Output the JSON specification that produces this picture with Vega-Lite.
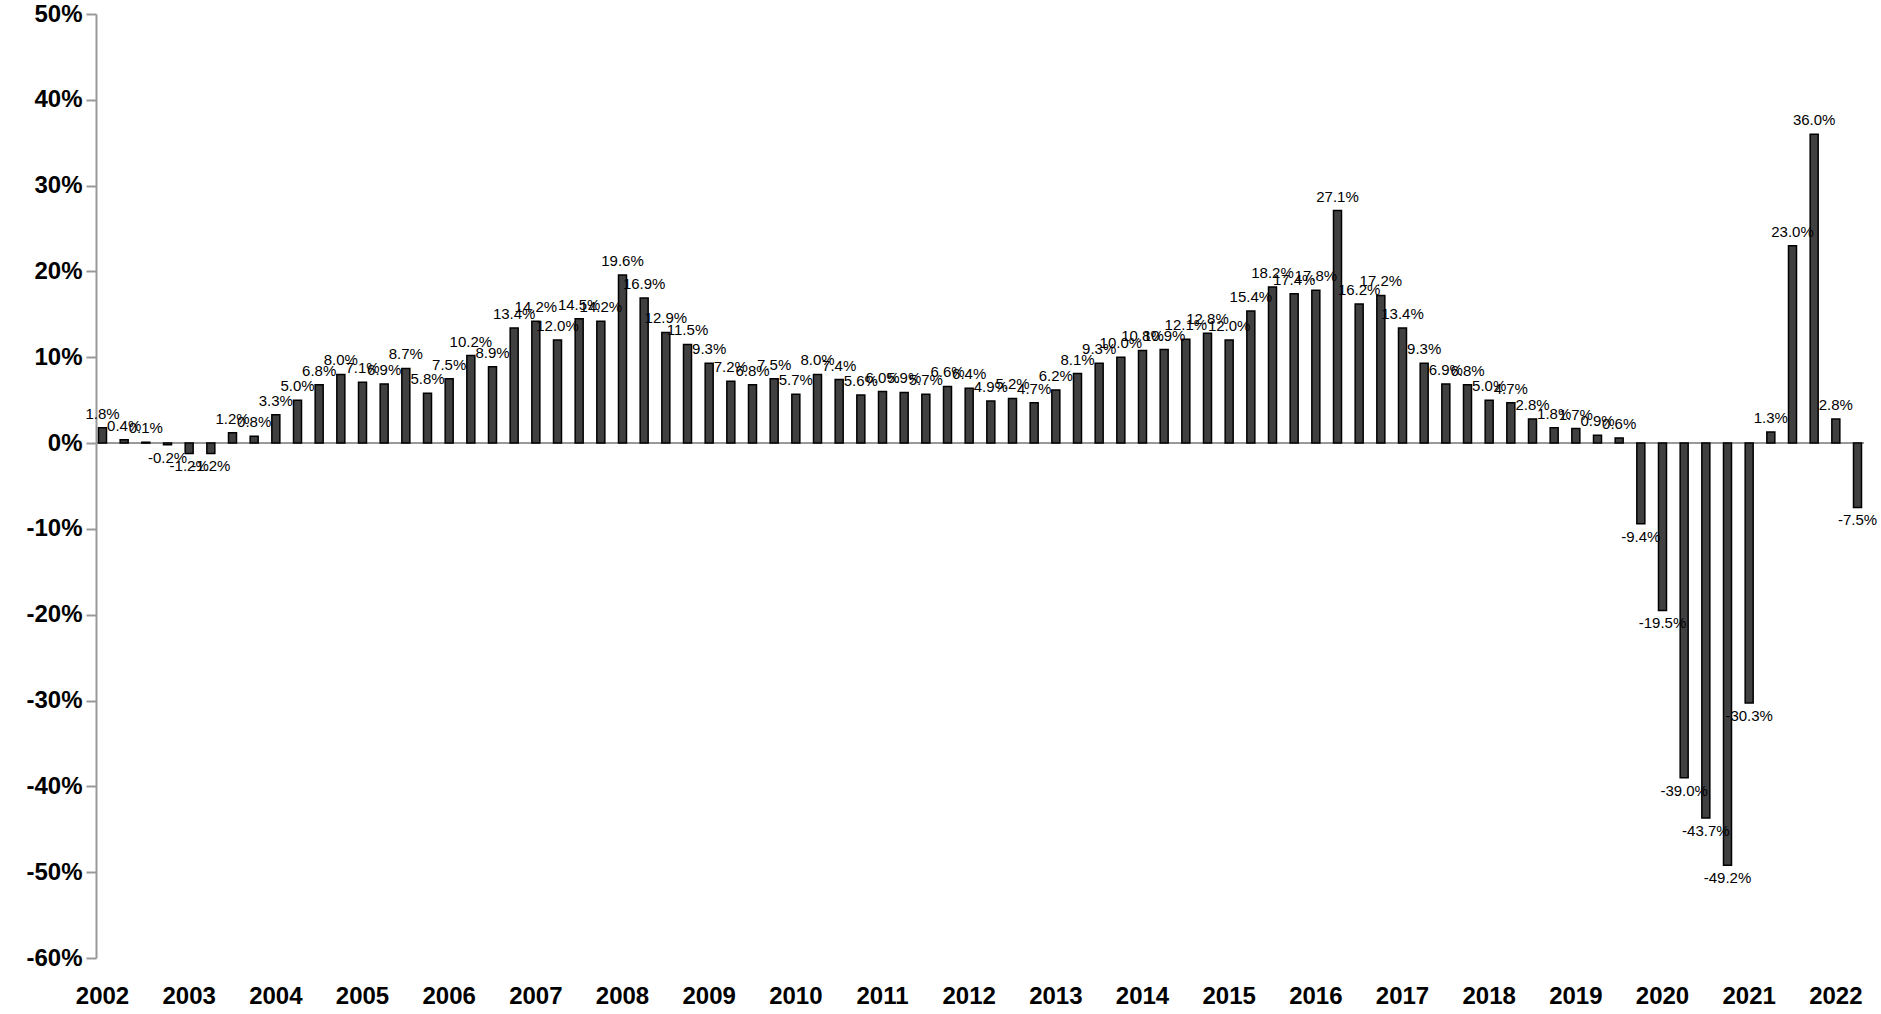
{
  "$schema": "https://vega.github.io/schema/vega-lite/v6.json",
  "width": 1768,
  "height": 944,
  "autosize": "none",
  "padding": {"left": 96, "top": 14, "right": 17, "bottom": 56},
  "background": "white",
  "data": {
    "values": [
      {"q": "2002Q1", "v": 0.018}, {"q": "2002Q2", "v": 0.004}, {"q": "2002Q3", "v": 0.001}, {"q": "2002Q4", "v": -0.002},
      {"q": "2003Q1", "v": -0.012}, {"q": "2003Q2", "v": -0.012}, {"q": "2003Q3", "v": 0.012}, {"q": "2003Q4", "v": 0.008},
      {"q": "2004Q1", "v": 0.033}, {"q": "2004Q2", "v": 0.050}, {"q": "2004Q3", "v": 0.068}, {"q": "2004Q4", "v": 0.080},
      {"q": "2005Q1", "v": 0.071}, {"q": "2005Q2", "v": 0.069}, {"q": "2005Q3", "v": 0.087}, {"q": "2005Q4", "v": 0.058},
      {"q": "2006Q1", "v": 0.075}, {"q": "2006Q2", "v": 0.102}, {"q": "2006Q3", "v": 0.089}, {"q": "2006Q4", "v": 0.134},
      {"q": "2007Q1", "v": 0.142}, {"q": "2007Q2", "v": 0.120}, {"q": "2007Q3", "v": 0.145}, {"q": "2007Q4", "v": 0.142},
      {"q": "2008Q1", "v": 0.196}, {"q": "2008Q2", "v": 0.169}, {"q": "2008Q3", "v": 0.129}, {"q": "2008Q4", "v": 0.115},
      {"q": "2009Q1", "v": 0.093}, {"q": "2009Q2", "v": 0.072}, {"q": "2009Q3", "v": 0.068}, {"q": "2009Q4", "v": 0.075},
      {"q": "2010Q1", "v": 0.057}, {"q": "2010Q2", "v": 0.080}, {"q": "2010Q3", "v": 0.074}, {"q": "2010Q4", "v": 0.056},
      {"q": "2011Q1", "v": 0.060}, {"q": "2011Q2", "v": 0.059}, {"q": "2011Q3", "v": 0.057}, {"q": "2011Q4", "v": 0.066},
      {"q": "2012Q1", "v": 0.064}, {"q": "2012Q2", "v": 0.049}, {"q": "2012Q3", "v": 0.052}, {"q": "2012Q4", "v": 0.047},
      {"q": "2013Q1", "v": 0.062}, {"q": "2013Q2", "v": 0.081}, {"q": "2013Q3", "v": 0.093}, {"q": "2013Q4", "v": 0.100},
      {"q": "2014Q1", "v": 0.108}, {"q": "2014Q2", "v": 0.109}, {"q": "2014Q3", "v": 0.121}, {"q": "2014Q4", "v": 0.128},
      {"q": "2015Q1", "v": 0.120}, {"q": "2015Q2", "v": 0.154}, {"q": "2015Q3", "v": 0.182}, {"q": "2015Q4", "v": 0.174},
      {"q": "2016Q1", "v": 0.178}, {"q": "2016Q2", "v": 0.271}, {"q": "2016Q3", "v": 0.162}, {"q": "2016Q4", "v": 0.172},
      {"q": "2017Q1", "v": 0.134}, {"q": "2017Q2", "v": 0.093}, {"q": "2017Q3", "v": 0.069}, {"q": "2017Q4", "v": 0.068},
      {"q": "2018Q1", "v": 0.050}, {"q": "2018Q2", "v": 0.047}, {"q": "2018Q3", "v": 0.028}, {"q": "2018Q4", "v": 0.018},
      {"q": "2019Q1", "v": 0.017}, {"q": "2019Q2", "v": 0.009}, {"q": "2019Q3", "v": 0.006}, {"q": "2019Q4", "v": -0.094},
      {"q": "2020Q1", "v": -0.195}, {"q": "2020Q2", "v": -0.390}, {"q": "2020Q3", "v": -0.437}, {"q": "2020Q4", "v": -0.492},
      {"q": "2021Q1", "v": -0.303}, {"q": "2021Q2", "v": 0.013}, {"q": "2021Q3", "v": 0.230}, {"q": "2021Q4", "v": 0.360},
      {"q": "2022Q1", "v": 0.028}, {"q": "2022Q2", "v": -0.075}
    ]
  },
  "transform": [
    {"calculate": "replace(format(datum.v, '.1%'), '\u2212', '-')", "as": "lbl"}
  ],
  "layer": [
    {
      "mark": {"type": "rule", "color": "#999999", "strokeWidth": 2},
      "encoding": {"y": {"datum": 0, "type": "quantitative"}}
    },
    {
      "mark": {"type": "bar", "color": "#404040", "stroke": "black", "strokeWidth": 1.5, "width": 8},
      "encoding": {
        "x": {
          "field": "q",
          "type": "ordinal",
          "sort": null,
          "scale": {"paddingInner": 0.6, "paddingOuter": 0.1},
          "axis": {
            "title": null,
            "labelAngle": 0,
            "labelExpr": "slice(datum.value, 4) == 'Q1' ? slice(datum.value, 0, 4) : ''",
            "labelFont": "Liberation Sans",
            "labelFontWeight": "bold",
            "labelFontSize": 24,
            "labelColor": "black",
            "labelPadding": 26,
            "labelOverlap": false,
            "ticks": false,
            "domain": false
          }
        },
        "y": {
          "field": "v",
          "type": "quantitative",
          "scale": {"domain": [-0.6, 0.5], "nice": false},
          "axis": {
            "title": null,
            "format": ".0%",
            "labelExpr": "replace(datum.label, '\u2212', '-')",
            "values": [-0.6, -0.5, -0.4, -0.3, -0.2, -0.1, 0, 0.1, 0.2, 0.3, 0.4, 0.5],
            "grid": false,
            "domainColor": "#999999",
            "domainWidth": 2,
            "tickColor": "#999999",
            "tickWidth": 2,
            "tickSize": 10,
            "labelFont": "Liberation Sans",
            "labelFontWeight": "bold",
            "labelFontSize": 24,
            "labelColor": "black",
            "labelPadding": 4
          }
        }
      }
    },
    {
      "transform": [{"filter": "datum.v >= 0"}],
      "mark": {"type": "text", "baseline": "bottom", "dy": -6, "font": "Liberation Sans", "fontSize": 15, "color": "black"},
      "encoding": {
        "x": {"field": "q", "type": "ordinal", "sort": null},
        "y": {"field": "v", "type": "quantitative"},
        "text": {"field": "lbl", "type": "nominal"}
      }
    },
    {
      "transform": [{"filter": "datum.v < 0"}],
      "mark": {"type": "text", "baseline": "top", "dy": 6, "font": "Liberation Sans", "fontSize": 15, "color": "black"},
      "encoding": {
        "x": {"field": "q", "type": "ordinal", "sort": null},
        "y": {"field": "v", "type": "quantitative"},
        "text": {"field": "lbl", "type": "nominal"}
      }
    }
  ],
  "config": {"view": {"stroke": null}}
}
